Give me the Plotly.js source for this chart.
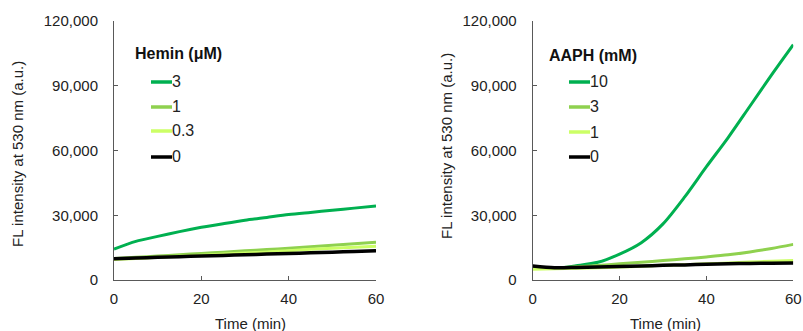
<!DOCTYPE html>
<html>
<head>
<meta charset="utf-8">
<script src="https://cdn.plot.ly/plotly-3.0.1.min.js"></script>
<style>html,body{margin:0;padding:0;background:#fff}#chart{width:803px;height:331px}</style>
</head>
<body>
<div id="chart"></div>
<script>
// ---- data ----
const time = [0, 5, 10, 15, 20, 25, 30, 35, 40, 45, 50, 55, 60];

const heminLabels = ['3', '1', '0.3', '0'];
const hemin3   = [14300, 17900, 20200, 22400, 24400, 26100, 27700, 29000, 30300, 31300, 32300, 33300, 34300];
const hemin1   = [10000, 10500, 11100, 11700, 12300, 12900, 13500, 14100, 14700, 15400, 16100, 16800, 17500];
const hemin03  = [9500, 10000, 10500, 11000, 11500, 12000, 12500, 13000, 13600, 14200, 14700, 15200, 15600];
const hemin0   = [9900, 10200, 10500, 10800, 11100, 11400, 11700, 12000, 12300, 12600, 12900, 13200, 13500];

const aaphLabels = ['10', '3', '1', '0'];
const aaph10 = [5850, 5400, 6600, 8200, 12000, 17300, 26000, 38500, 52500, 66000, 80500, 95000, 109000];
const aaph3  = [5400, 5600, 6100, 6700, 7500, 8200, 9000, 9800, 10700, 11700, 13000, 14600, 16500];
const aaph1  = [5000, 5200, 5400, 5700, 6000, 6400, 6800, 7100, 7500, 7900, 8300, 8700, 9000];
const aaph0  = [6500, 5700, 5800, 6000, 6300, 6500, 6800, 7000, 7300, 7500, 7700, 7800, 7900];

const xTicks = [0, 20, 40, 60];
const yTicks = [0, 30000, 60000, 90000, 120000];

// ---- style ----
const colors = ['#00b050', '#8fd14f', '#ccff66', '#000000'];
const widths = [3, 3, 3, 3.5];
const W = 803, H = 331;
const px = x => x / W;
const py = y => 1 - y / H;
const FONT = 'Liberation Sans, Arial, sans-serif';

const leftSeries = [hemin3, hemin1, hemin03, hemin0];
const rightSeries = [aaph10, aaph3, aaph1, aaph0];

const traces = [];
leftSeries.forEach((ys, i) => traces.push({
  x: time, y: ys, xaxis: 'x', yaxis: 'y', type: 'scatter', mode: 'lines',
  line: {color: colors[i], width: widths[i], shape: 'spline', smoothing: 0.8},
  name: heminLabels[i], showlegend: false
}));
rightSeries.forEach((ys, i) => traces.push({
  x: time, y: ys, xaxis: 'x2', yaxis: 'y2', type: 'scatter', mode: 'lines',
  line: {color: colors[i], width: widths[i], shape: 'spline', smoothing: 0.8},
  name: aaphLabels[i], showlegend: false
}));

const axCommon = {
  showline: true, linecolor: '#595959', linewidth: 1,
  ticks: 'inside', ticklen: 4, tickcolor: '#595959', tickwidth: 1,
  showgrid: false, zeroline: false,
  tickfont: {family: FONT, size: 15, color: '#222'}
};
const yDom = [py(280), py(21)];
const layout = {
  width: W, height: H,
  margin: {l: 0, r: 0, t: 0, b: 0},
  paper_bgcolor: '#fff', plot_bgcolor: '#fff',
  showlegend: false,
  xaxis: Object.assign({}, axCommon, {domain: [px(114), px(376)], range: [0, 60], tickvals: xTicks, anchor: 'y', ticklabelstandoff: 5}),
  yaxis: Object.assign({}, axCommon, {domain: yDom, range: [0, 120000], tickvals: yTicks, tickformat: ',d', anchor: 'x', ticklabelstandoff: 12}),
  xaxis2: Object.assign({}, axCommon, {domain: [px(532.7), px(793.3)], range: [0, 60], tickvals: xTicks, anchor: 'y2', ticklabelstandoff: 5}),
  yaxis2: Object.assign({}, axCommon, {domain: yDom, range: [0, 120000], tickvals: yTicks, tickformat: ',d', anchor: 'x2', ticklabelstandoff: 12}),
  shapes: [],
  annotations: []
};

const ann = (x, y, text, opts) => Object.assign({
  xref: 'paper', yref: 'paper', x: px(x), y: py(y), text: text, showarrow: false,
  xanchor: 'center', yanchor: 'middle',
  font: {family: FONT, size: 15, color: '#222'}
}, opts || {});

// axis titles
layout.annotations.push(ann(17, 154, 'FL intensity at 530 nm (a.u.)', {textangle: -90}));
layout.annotations.push(ann(446, 146, 'FL intensity at 530 nm (a.u.)', {textangle: -90}));
layout.annotations.push(ann(251, 323, 'Time (min)'));
layout.annotations.push(ann(665, 323, 'Time (min)'));

// custom legends
function legend(titleText, labels, tx, ty, lx0, lx1, rows) {
  layout.annotations.push(ann(tx, ty, '<b>' + titleText + '</b>', {xanchor: 'left', font: {family: FONT, size: 16, color: '#111'}}));
  labels.forEach((lab, i) => {
    layout.shapes.push({type: 'line', xref: 'paper', yref: 'paper',
      x0: px(lx0), x1: px(lx1), y0: py(rows[i]), y1: py(rows[i]),
      line: {color: colors[i], width: 3.5}});
    layout.annotations.push(ann(lx1 - 2, rows[i], lab, {xanchor: 'left', font: {family: FONT, size: 16, color: '#222'}}));
  });
}
legend('Hemin (μM)', heminLabels, 133, 53, 151, 172, [82, 107, 131, 157]);
legend('AAPH (mM)', aaphLabels, 547, 55, 569, 590, [82, 107, 132, 157]);

Plotly.newPlot('chart', traces, layout, {staticPlot: true, displayModeBar: false});
</script>
</body>
</html>
